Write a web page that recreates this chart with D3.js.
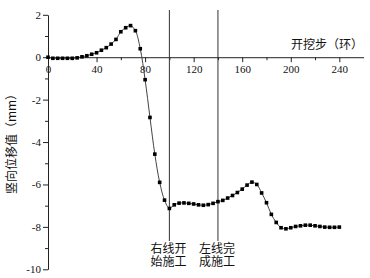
<!DOCTYPE html>
<html>
<head>
<meta charset="utf-8">
<script src="https://cdn.jsdelivr.net/npm/d3@7"></script>
<style>
  body { margin: 0; background: #fff; }
  svg { display: block; }
</style>
</head>
<body>
<div id="chart"></div>
<script>
// excavation step (rings)
const steps = [0, 4, 8, 12, 16, 20, 24, 28, 32, 36, 40, 44, 48, 52, 56, 60, 64, 68, 72, 76,
  80, 84, 88, 92, 96, 100, 104, 108, 112, 116, 120, 124, 128, 132, 136, 140, 144, 148, 152, 156,
  160, 164, 168, 172, 176, 180, 184, 188, 192, 196, 200, 204, 208, 212, 216, 220, 224, 228, 232, 236, 240];
// vertical displacement (mm)
const displacement = [0, -0.05, -0.05, -0.05, -0.05, -0.05, -0.03, 0.02, 0.07, 0.14, 0.21, 0.33, 0.45, 0.62, 0.84, 1.2, 1.39, 1.49, 1.25, 0.40,
  -1.06, -2.84, -4.57, -5.9, -6.74, -7.13, -6.96, -6.88, -6.87, -6.89, -6.92, -6.96, -6.98, -6.95, -6.89, -6.81, -6.75, -6.64, -6.52, -6.38,
  -6.22, -6.03, -5.89, -6.0, -6.4, -6.86, -7.41, -7.79, -8.04, -8.09, -8.04, -7.98, -7.95, -7.92, -7.92, -7.95, -7.98, -8.01, -8.02, -8.02, -8.01];
const xTicks = [0, 40, 80, 120, 160, 200, 240];
const xMinor = [20, 60, 100, 140, 180, 220];
const yTicks = [2, 0, -2, -4, -6, -8, -10];
const yMinor = [1, -1, -3, -5, -7, -9];
const markers = [
  { step: 100, lines: ['右线开', '始施工'] },
  { step: 140, lines: ['左线完', '成施工'] }
];

const width = 370, height = 278;
const numFont = '"Liberation Serif", "DejaVu Serif", serif';
const cjkFont = '"Noto Sans CJK SC", sans-serif';

const svg = d3.select('#chart').append('svg')
  .attr('width', width)
  .attr('height', height);

const x = d3.scaleLinear().domain([0, 260]).range([48, 363.6]);
const y = d3.scaleLinear().domain([-10, 2]).range([269.3, 14.8]);

// x axis through zero
svg.append('g')
  .attr('transform', `translate(0,${y(0)})`)
  .call(d3.axisBottom(x).tickValues(xTicks).tickSize(5).tickSizeOuter(0).tickPadding(3))
  .style('font-family', numFont)
  .style('font-size', '11px');
svg.append('g')
  .attr('transform', `translate(0,${y(0)})`)
  .call(d3.axisBottom(x).tickValues(xMinor).tickSize(3).tickFormat(''))
  .call(g => g.select('.domain').remove());

// y axis
svg.append('g')
  .attr('transform', `translate(${x(0)},0)`)
  .call(d3.axisLeft(y).tickValues(yTicks).tickSize(5).tickSizeOuter(0).tickPadding(2)
    .tickFormat(d => String(d)))
  .style('font-family', numFont)
  .style('font-size', '11px');
svg.append('g')
  .attr('transform', `translate(${x(0)},0)`)
  .call(d3.axisLeft(y).tickValues(yMinor).tickSize(3).tickFormat(''))
  .call(g => g.select('.domain').remove());

svg.selectAll('.domain, .tick line').attr('stroke', '#222');
svg.selectAll('.tick text').attr('fill', '#111');

// construction milestones
markers.forEach(m => {
  svg.append('line')
    .attr('x1', x(m.step)).attr('x2', x(m.step))
    .attr('y1', 10).attr('y2', 241)
    .attr('stroke', '#333')
    .attr('stroke-width', 1);
  m.lines.forEach((s, i) => {
    svg.append('text')
      .attr('x', x(m.step) - 1)
      .attr('y', 252.5 + i * 13)
      .attr('text-anchor', 'middle')
      .style('font-family', cjkFont)
      .style('font-size', '12px')
      .attr('fill', '#111')
      .text(s);
  });
});

// curve
const data = steps.map((s, i) => ({ step: s, value: displacement[i] }));
const line = d3.line()
  .x(d => x(d.step))
  .y(d => y(d.value))
  .curve(d3.curveCatmullRom);

svg.append('path')
  .datum(data)
  .attr('fill', 'none')
  .attr('stroke', '#444')
  .attr('stroke-width', 1)
  .attr('d', line);

svg.selectAll('rect.pt')
  .data(data)
  .enter()
  .append('rect')
  .attr('class', 'pt')
  .attr('x', d => x(d.step) - 1.8)
  .attr('y', d => y(d.value) - 1.8)
  .attr('width', 3.6)
  .attr('height', 3.6)
  .attr('fill', '#000');

// axis titles
svg.append('text')
  .attr('x', 363)
  .attr('y', 48.5)
  .attr('text-anchor', 'end')
  .style('font-family', cjkFont)
  .style('font-size', '12px')
  .attr('fill', '#111')
  .text('开挖步（环）');

svg.append('text')
  .attr('transform', `translate(16,141) rotate(-90)`)
  .attr('text-anchor', 'middle')
  .style('font-family', cjkFont)
  .style('font-size', '12px')
  .attr('fill', '#111')
  .text('竖向位移值（mm）');
</script>
</body>
</html>
